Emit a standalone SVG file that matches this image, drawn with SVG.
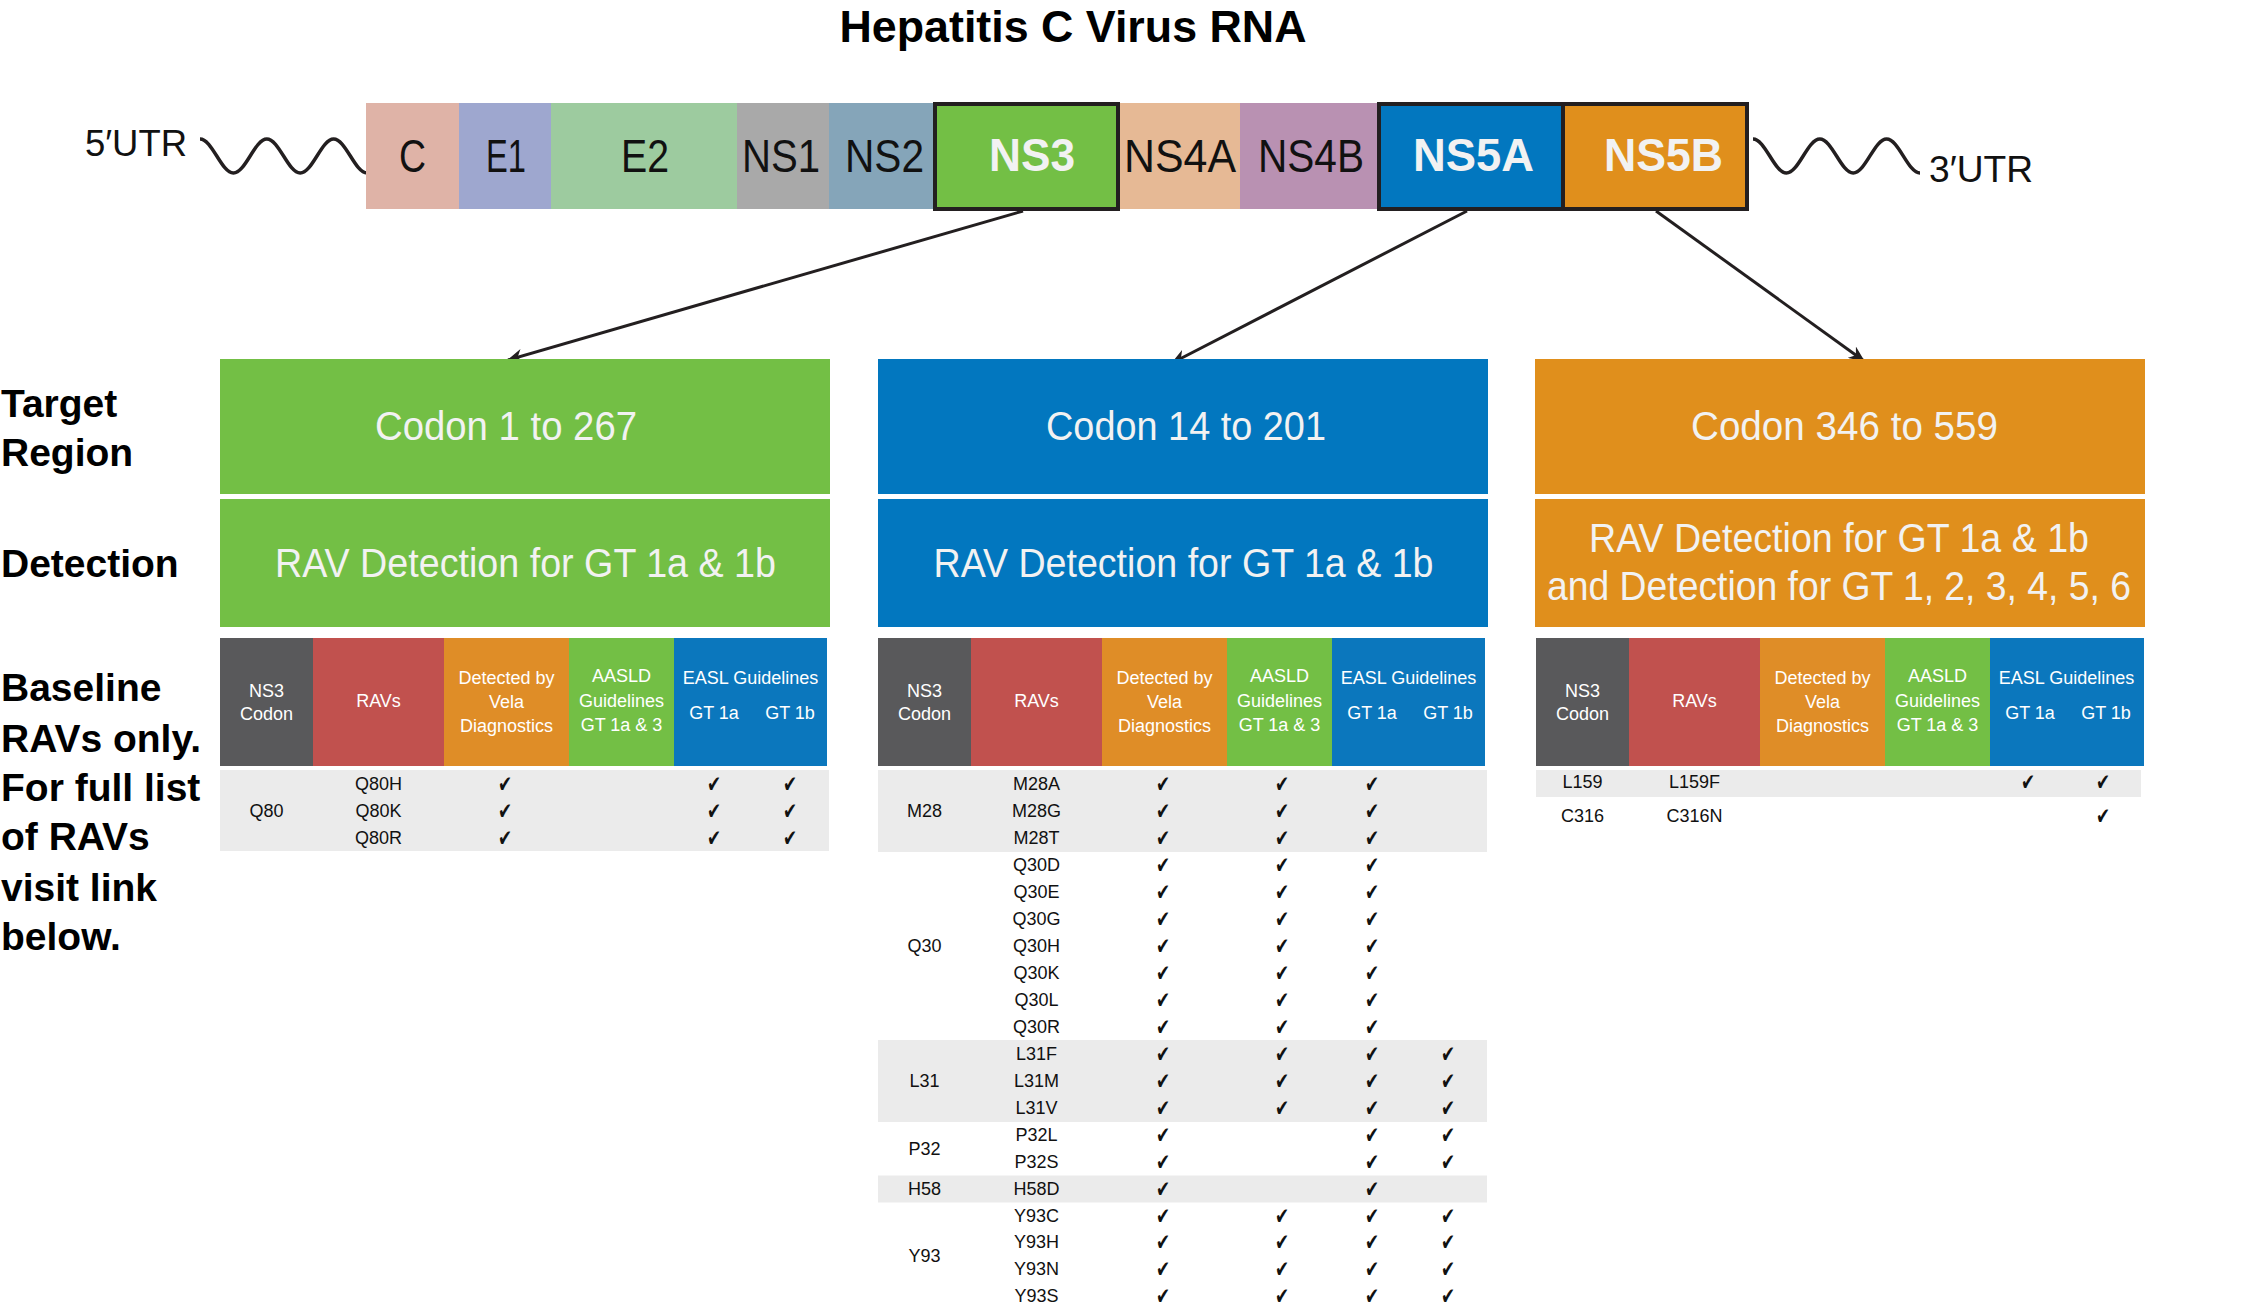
<svg xmlns="http://www.w3.org/2000/svg" width="2253" height="1309" viewBox="0 0 2253 1309">
<style>
text{font-family:'Liberation Sans',Arial,sans-serif}
.title{font-size:44px;font-weight:bold;fill:#000;text-anchor:middle}
.utr{font-size:37px;fill:#111}
.gene{font-size:47px;fill:#111;text-anchor:middle}
.geneB{font-size:47px;font-weight:bold;fill:#f2f2f2;text-anchor:middle}
.side{font-size:39px;font-weight:bold;fill:#000}
.big{font-size:40px;fill:#f2f2f2;text-anchor:middle}
.hd{font-size:18px;fill:#fff;text-anchor:middle}
.cell{font-size:18px;fill:#111;text-anchor:middle}
.ck{font-family:'DejaVu Sans',sans-serif;font-size:23px;fill:#111;text-anchor:middle}
.wave{fill:none;stroke:#231f20;stroke-width:3.5}
.conn{fill:none;stroke:#231f20;stroke-width:3}
.bord{stroke:#231f20;stroke-width:4}
.band{fill:#ebebeb}
.c-grey{fill:#59595b}.c-red{fill:#c1514e}.c-org{fill:#df8d27}.c-grn{fill:#73bf45}.c-blu{fill:#0b77bd}
</style>
<defs>
<marker id="ah" viewBox="0 0 16 14" markerWidth="16" markerHeight="14" refX="15" refY="7" orient="auto" markerUnits="userSpaceOnUse">
<path d="M0,0 L16,7 L0,14 L5,7 Z" fill="#231f20"/>
</marker>
</defs>
<rect width="2253" height="1309" fill="#fff"/>

<g id="title"><text class="title" x="1073" y="42" textLength="467" lengthAdjust="spacingAndGlyphs">Hepatitis C Virus RNA</text></g>

<g id="utr5">
<text class="utr" x="85" y="156" textLength="102" lengthAdjust="spacingAndGlyphs">5′UTR</text>
<path class="wave" d="M200,139 C212.2,139 221.3,173 233.4,173 C245.6,173 254.7,139 266.8,139 C279,139 288.1,173 300.2,173 C312.4,173 321.5,139 333.6,139 C345.8,139 354.9,173 367,173"/>
</g>
<g id="utr3">
<path class="wave" d="M1753,139 C1765.2,139 1774.3,173 1786.4,173 C1798.6,173 1807.7,139 1819.8,139 C1832,139 1841.1,173 1853.2,173 C1865.4,173 1874.5,139 1886.6,139 C1898.8,139 1907.9,173 1920,173"/>
<text class="utr" x="1929" y="182" textLength="104" lengthAdjust="spacingAndGlyphs">3′UTR</text>
</g>

<g id="gene-C"><rect x="366" y="103" width="93" height="106" fill="#dfb3a7"/><text class="gene" x="412.5" y="172" textLength="27" lengthAdjust="spacingAndGlyphs">C</text></g>
<g id="gene-E1"><rect x="459" y="103" width="92" height="106" fill="#9ea7cf"/><text class="gene" x="506" y="172" textLength="40" lengthAdjust="spacingAndGlyphs">E1</text></g>
<g id="gene-E2"><rect x="551" y="103" width="186" height="106" fill="#9dcb9f"/><text class="gene" x="645" y="172" textLength="48" lengthAdjust="spacingAndGlyphs">E2</text></g>
<g id="gene-NS1"><rect x="737" y="103" width="92" height="106" fill="#a9a9a9"/><text class="gene" x="781" y="172" textLength="78" lengthAdjust="spacingAndGlyphs">NS1</text></g>
<g id="gene-NS2"><rect x="829" y="103" width="104" height="106" fill="#85a5b9"/><text class="gene" x="884.5" y="172" textLength="79" lengthAdjust="spacingAndGlyphs">NS2</text></g>
<g id="gene-NS4A"><rect x="1120" y="103" width="120" height="106" fill="#e6b995"/><text class="gene" x="1180" y="172" textLength="112" lengthAdjust="spacingAndGlyphs">NS4A</text></g>
<g id="gene-NS4B"><rect x="1240" y="103" width="137" height="106" fill="#b991b2"/><text class="gene" x="1311" y="172" textLength="106" lengthAdjust="spacingAndGlyphs">NS4B</text></g>
<g id="gene-NS3"><rect class="bord" x="935" y="104" width="183" height="105" fill="#73bf45"/><text class="geneB" x="1032" y="171" textLength="86" lengthAdjust="spacingAndGlyphs">NS3</text></g>
<g id="gene-NS5A"><rect class="bord" x="1379" y="104" width="184" height="105" fill="#0277bf"/><text class="geneB" x="1473.5" y="171" textLength="121" lengthAdjust="spacingAndGlyphs">NS5A</text></g>
<g id="gene-NS5B"><rect class="bord" x="1563" y="104" width="184" height="105" fill="#e08f1c"/><text class="geneB" x="1663.5" y="171" textLength="119" lengthAdjust="spacingAndGlyphs">NS5B</text></g>

<g id="connectors">
<line class="conn" x1="1023" y1="211" x2="508" y2="360" marker-end="url(#ah)"/>
<line class="conn" x1="1467" y1="211" x2="1172" y2="363" marker-end="url(#ah)"/>
<line class="conn" x1="1656" y1="211" x2="1864" y2="361" marker-end="url(#ah)"/>
</g>

<g id="row-labels">
<text class="side" x="1" y="417">Target</text>
<text class="side" x="1" y="466">Region</text>
<text class="side" x="1" y="577">Detection</text>
<text class="side" x="1" y="701">Baseline</text>
<text class="side" x="1" y="752">RAVs only.</text>
<text class="side" x="1" y="801">For full list</text>
<text class="side" x="1" y="850">of RAVs</text>
<text class="side" x="1" y="901">visit link</text>
<text class="side" x="1" y="950">below.</text>
</g>

<!-- NS3 panel -->
<g id="ns3-target"><rect x="220" y="359" width="610" height="135" fill="#73bf45"/><text class="big" x="506" y="439.5" textLength="262" lengthAdjust="spacingAndGlyphs">Codon 1 to 267</text></g>
<g id="ns3-detection"><rect x="220" y="499" width="610" height="128" fill="#73bf45"/><text class="big" x="525.5" y="577" textLength="501" lengthAdjust="spacingAndGlyphs">RAV Detection for GT 1a &amp; 1b</text></g>
<g id="ns3-table">
<rect class="c-grey" x="220" y="638" width="93" height="128"/>
<rect class="c-red" x="313" y="638" width="131" height="128"/>
<rect class="c-org" x="444" y="638" width="125" height="128"/>
<rect class="c-grn" x="569" y="638" width="105" height="128"/>
<rect class="c-blu" x="674" y="638" width="153" height="128"/>
<text class="hd" x="266.5" y="696.5">NS3</text><text class="hd" x="266.5" y="720">Codon</text>
<text class="hd" x="378.5" y="707">RAVs</text>
<text class="hd" x="506.5" y="684">Detected by</text><text class="hd" x="506.5" y="708">Vela</text><text class="hd" x="506.5" y="731.5">Diagnostics</text>
<text class="hd" x="621.5" y="682">AASLD</text><text class="hd" x="621.5" y="706.5">Guidelines</text><text class="hd" x="621.5" y="731">GT 1a &amp; 3</text>
<text class="hd" x="750.5" y="684">EASL Guidelines</text><text class="hd" x="714" y="718.5">GT 1a</text><text class="hd" x="790" y="718.5">GT 1b</text>
<rect class="band" x="220" y="770" width="609" height="81"/>
<text class="cell" x="266.5" y="817">Q80</text>
<text class="cell" x="378.5" y="790">Q80H</text><text class="cell" x="378.5" y="817">Q80K</text><text class="cell" x="378.5" y="843.5">Q80R</text>
<text class="ck" x="505" y="792" textLength="14" lengthAdjust="spacingAndGlyphs">✔</text><text class="ck" x="714" y="792" textLength="14" lengthAdjust="spacingAndGlyphs">✔</text><text class="ck" x="790" y="792" textLength="14" lengthAdjust="spacingAndGlyphs">✔</text>
<text class="ck" x="505" y="819" textLength="14" lengthAdjust="spacingAndGlyphs">✔</text><text class="ck" x="714" y="819" textLength="14" lengthAdjust="spacingAndGlyphs">✔</text><text class="ck" x="790" y="819" textLength="14" lengthAdjust="spacingAndGlyphs">✔</text>
<text class="ck" x="505" y="845.5" textLength="14" lengthAdjust="spacingAndGlyphs">✔</text><text class="ck" x="714" y="845.5" textLength="14" lengthAdjust="spacingAndGlyphs">✔</text><text class="ck" x="790" y="845.5" textLength="14" lengthAdjust="spacingAndGlyphs">✔</text>
</g>

<!-- NS5A panel -->
<g id="ns5a-target"><rect x="878" y="359" width="610" height="135" fill="#0277bf"/><text class="big" x="1186" y="440" textLength="280" lengthAdjust="spacingAndGlyphs">Codon 14 to 201</text></g>
<g id="ns5a-detection"><rect x="878" y="499" width="610" height="128" fill="#0277bf"/><text class="big" x="1183.5" y="577" textLength="500" lengthAdjust="spacingAndGlyphs">RAV Detection for GT 1a &amp; 1b</text></g>
<g id="ns5a-table">
<rect class="c-grey" x="878" y="638" width="93" height="128"/>
<rect class="c-red" x="971" y="638" width="131" height="128"/>
<rect class="c-org" x="1102" y="638" width="125" height="128"/>
<rect class="c-grn" x="1227" y="638" width="105" height="128"/>
<rect class="c-blu" x="1332" y="638" width="153" height="128"/>
<text class="hd" x="924.5" y="696.5">NS3</text><text class="hd" x="924.5" y="720">Codon</text>
<text class="hd" x="1036.5" y="707">RAVs</text>
<text class="hd" x="1164.5" y="684">Detected by</text><text class="hd" x="1164.5" y="708">Vela</text><text class="hd" x="1164.5" y="731.5">Diagnostics</text>
<text class="hd" x="1279.5" y="682">AASLD</text><text class="hd" x="1279.5" y="706.5">Guidelines</text><text class="hd" x="1279.5" y="731">GT 1a &amp; 3</text>
<text class="hd" x="1408.5" y="684">EASL Guidelines</text><text class="hd" x="1372" y="718.5">GT 1a</text><text class="hd" x="1448" y="718.5">GT 1b</text>
<rect class="band" x="878" y="770" width="609" height="82"/>
<rect class="band" x="878" y="1040" width="609" height="82"/>
<rect class="band" x="878" y="1175.5" width="609" height="27"/>
<text class="cell" x="924.5" y="817">M28</text>
<text class="cell" x="924.5" y="952">Q30</text>
<text class="cell" x="924.5" y="1087">L31</text>
<text class="cell" x="924.5" y="1154.5">P32</text>
<text class="cell" x="924.5" y="1195">H58</text>
<text class="cell" x="924.5" y="1261.5">Y93</text>
<text class="cell" x="1036.5" y="790">M28A</text>
<text class="cell" x="1036.5" y="817">M28G</text>
<text class="cell" x="1036.5" y="844">M28T</text>
<text class="cell" x="1036.5" y="871">Q30D</text>
<text class="cell" x="1036.5" y="898">Q30E</text>
<text class="cell" x="1036.5" y="925">Q30G</text>
<text class="cell" x="1036.5" y="952">Q30H</text>
<text class="cell" x="1036.5" y="979">Q30K</text>
<text class="cell" x="1036.5" y="1006">Q30L</text>
<text class="cell" x="1036.5" y="1033">Q30R</text>
<text class="cell" x="1036.5" y="1060">L31F</text>
<text class="cell" x="1036.5" y="1087">L31M</text>
<text class="cell" x="1036.5" y="1114">L31V</text>
<text class="cell" x="1036.5" y="1141">P32L</text>
<text class="cell" x="1036.5" y="1168">P32S</text>
<text class="cell" x="1036.5" y="1195">H58D</text>
<text class="cell" x="1036.5" y="1222">Y93C</text>
<text class="cell" x="1036.5" y="1248">Y93H</text>
<text class="cell" x="1036.5" y="1275">Y93N</text>
<text class="cell" x="1036.5" y="1302">Y93S</text>
<text class="ck" x="1163" y="792" textLength="14" lengthAdjust="spacingAndGlyphs">✔</text><text class="ck" x="1282" y="792" textLength="14" lengthAdjust="spacingAndGlyphs">✔</text><text class="ck" x="1372" y="792" textLength="14" lengthAdjust="spacingAndGlyphs">✔</text>
<text class="ck" x="1163" y="819" textLength="14" lengthAdjust="spacingAndGlyphs">✔</text><text class="ck" x="1282" y="819" textLength="14" lengthAdjust="spacingAndGlyphs">✔</text><text class="ck" x="1372" y="819" textLength="14" lengthAdjust="spacingAndGlyphs">✔</text>
<text class="ck" x="1163" y="846" textLength="14" lengthAdjust="spacingAndGlyphs">✔</text><text class="ck" x="1282" y="846" textLength="14" lengthAdjust="spacingAndGlyphs">✔</text><text class="ck" x="1372" y="846" textLength="14" lengthAdjust="spacingAndGlyphs">✔</text>
<text class="ck" x="1163" y="873" textLength="14" lengthAdjust="spacingAndGlyphs">✔</text><text class="ck" x="1282" y="873" textLength="14" lengthAdjust="spacingAndGlyphs">✔</text><text class="ck" x="1372" y="873" textLength="14" lengthAdjust="spacingAndGlyphs">✔</text>
<text class="ck" x="1163" y="900" textLength="14" lengthAdjust="spacingAndGlyphs">✔</text><text class="ck" x="1282" y="900" textLength="14" lengthAdjust="spacingAndGlyphs">✔</text><text class="ck" x="1372" y="900" textLength="14" lengthAdjust="spacingAndGlyphs">✔</text>
<text class="ck" x="1163" y="927" textLength="14" lengthAdjust="spacingAndGlyphs">✔</text><text class="ck" x="1282" y="927" textLength="14" lengthAdjust="spacingAndGlyphs">✔</text><text class="ck" x="1372" y="927" textLength="14" lengthAdjust="spacingAndGlyphs">✔</text>
<text class="ck" x="1163" y="954" textLength="14" lengthAdjust="spacingAndGlyphs">✔</text><text class="ck" x="1282" y="954" textLength="14" lengthAdjust="spacingAndGlyphs">✔</text><text class="ck" x="1372" y="954" textLength="14" lengthAdjust="spacingAndGlyphs">✔</text>
<text class="ck" x="1163" y="981" textLength="14" lengthAdjust="spacingAndGlyphs">✔</text><text class="ck" x="1282" y="981" textLength="14" lengthAdjust="spacingAndGlyphs">✔</text><text class="ck" x="1372" y="981" textLength="14" lengthAdjust="spacingAndGlyphs">✔</text>
<text class="ck" x="1163" y="1008" textLength="14" lengthAdjust="spacingAndGlyphs">✔</text><text class="ck" x="1282" y="1008" textLength="14" lengthAdjust="spacingAndGlyphs">✔</text><text class="ck" x="1372" y="1008" textLength="14" lengthAdjust="spacingAndGlyphs">✔</text>
<text class="ck" x="1163" y="1035" textLength="14" lengthAdjust="spacingAndGlyphs">✔</text><text class="ck" x="1282" y="1035" textLength="14" lengthAdjust="spacingAndGlyphs">✔</text><text class="ck" x="1372" y="1035" textLength="14" lengthAdjust="spacingAndGlyphs">✔</text>
<text class="ck" x="1163" y="1062" textLength="14" lengthAdjust="spacingAndGlyphs">✔</text><text class="ck" x="1282" y="1062" textLength="14" lengthAdjust="spacingAndGlyphs">✔</text><text class="ck" x="1372" y="1062" textLength="14" lengthAdjust="spacingAndGlyphs">✔</text><text class="ck" x="1448" y="1062" textLength="14" lengthAdjust="spacingAndGlyphs">✔</text>
<text class="ck" x="1163" y="1089" textLength="14" lengthAdjust="spacingAndGlyphs">✔</text><text class="ck" x="1282" y="1089" textLength="14" lengthAdjust="spacingAndGlyphs">✔</text><text class="ck" x="1372" y="1089" textLength="14" lengthAdjust="spacingAndGlyphs">✔</text><text class="ck" x="1448" y="1089" textLength="14" lengthAdjust="spacingAndGlyphs">✔</text>
<text class="ck" x="1163" y="1116" textLength="14" lengthAdjust="spacingAndGlyphs">✔</text><text class="ck" x="1282" y="1116" textLength="14" lengthAdjust="spacingAndGlyphs">✔</text><text class="ck" x="1372" y="1116" textLength="14" lengthAdjust="spacingAndGlyphs">✔</text><text class="ck" x="1448" y="1116" textLength="14" lengthAdjust="spacingAndGlyphs">✔</text>
<text class="ck" x="1163" y="1143" textLength="14" lengthAdjust="spacingAndGlyphs">✔</text><text class="ck" x="1372" y="1143" textLength="14" lengthAdjust="spacingAndGlyphs">✔</text><text class="ck" x="1448" y="1143" textLength="14" lengthAdjust="spacingAndGlyphs">✔</text>
<text class="ck" x="1163" y="1170" textLength="14" lengthAdjust="spacingAndGlyphs">✔</text><text class="ck" x="1372" y="1170" textLength="14" lengthAdjust="spacingAndGlyphs">✔</text><text class="ck" x="1448" y="1170" textLength="14" lengthAdjust="spacingAndGlyphs">✔</text>
<text class="ck" x="1163" y="1197" textLength="14" lengthAdjust="spacingAndGlyphs">✔</text><text class="ck" x="1372" y="1197" textLength="14" lengthAdjust="spacingAndGlyphs">✔</text>
<text class="ck" x="1163" y="1224" textLength="14" lengthAdjust="spacingAndGlyphs">✔</text><text class="ck" x="1282" y="1224" textLength="14" lengthAdjust="spacingAndGlyphs">✔</text><text class="ck" x="1372" y="1224" textLength="14" lengthAdjust="spacingAndGlyphs">✔</text><text class="ck" x="1448" y="1224" textLength="14" lengthAdjust="spacingAndGlyphs">✔</text>
<text class="ck" x="1163" y="1250" textLength="14" lengthAdjust="spacingAndGlyphs">✔</text><text class="ck" x="1282" y="1250" textLength="14" lengthAdjust="spacingAndGlyphs">✔</text><text class="ck" x="1372" y="1250" textLength="14" lengthAdjust="spacingAndGlyphs">✔</text><text class="ck" x="1448" y="1250" textLength="14" lengthAdjust="spacingAndGlyphs">✔</text>
<text class="ck" x="1163" y="1277" textLength="14" lengthAdjust="spacingAndGlyphs">✔</text><text class="ck" x="1282" y="1277" textLength="14" lengthAdjust="spacingAndGlyphs">✔</text><text class="ck" x="1372" y="1277" textLength="14" lengthAdjust="spacingAndGlyphs">✔</text><text class="ck" x="1448" y="1277" textLength="14" lengthAdjust="spacingAndGlyphs">✔</text>
<text class="ck" x="1163" y="1304" textLength="14" lengthAdjust="spacingAndGlyphs">✔</text><text class="ck" x="1282" y="1304" textLength="14" lengthAdjust="spacingAndGlyphs">✔</text><text class="ck" x="1372" y="1304" textLength="14" lengthAdjust="spacingAndGlyphs">✔</text><text class="ck" x="1448" y="1304" textLength="14" lengthAdjust="spacingAndGlyphs">✔</text>
</g>

<!-- NS5B panel -->
<g id="ns5b-target"><rect x="1535" y="359" width="610" height="135" fill="#e08f1c"/><text class="big" x="1844.5" y="440" textLength="307" lengthAdjust="spacingAndGlyphs">Codon 346 to 559</text></g>
<g id="ns5b-detection"><rect x="1535" y="499" width="610" height="128" fill="#e08f1c"/>
<text class="big" x="1839" y="552" textLength="500" lengthAdjust="spacingAndGlyphs">RAV Detection for GT 1a &amp; 1b</text>
<text class="big" x="1839" y="600" textLength="584" lengthAdjust="spacingAndGlyphs">and Detection for GT 1, 2, 3, 4, 5, 6</text></g>
<g id="ns5b-table">
<rect class="c-grey" x="1536" y="638" width="93" height="128"/>
<rect class="c-red" x="1629" y="638" width="131" height="128"/>
<rect class="c-org" x="1760" y="638" width="125" height="128"/>
<rect class="c-grn" x="1885" y="638" width="105" height="128"/>
<rect class="c-blu" x="1990" y="638" width="154" height="128"/>
<text class="hd" x="1582.5" y="696.5">NS3</text><text class="hd" x="1582.5" y="720">Codon</text>
<text class="hd" x="1694.5" y="707">RAVs</text>
<text class="hd" x="1822.5" y="684">Detected by</text><text class="hd" x="1822.5" y="708">Vela</text><text class="hd" x="1822.5" y="731.5">Diagnostics</text>
<text class="hd" x="1937.5" y="682">AASLD</text><text class="hd" x="1937.5" y="706.5">Guidelines</text><text class="hd" x="1937.5" y="731">GT 1a &amp; 3</text>
<text class="hd" x="2066.5" y="684">EASL Guidelines</text><text class="hd" x="2030" y="718.5">GT 1a</text><text class="hd" x="2106" y="718.5">GT 1b</text>
<rect class="band" x="1536" y="770" width="605" height="27"/>
<text class="cell" x="1582.5" y="788">L159</text><text class="cell" x="1694.5" y="788">L159F</text>
<text class="ck" x="2028" y="790" textLength="14" lengthAdjust="spacingAndGlyphs">✔</text><text class="ck" x="2103" y="790" textLength="14" lengthAdjust="spacingAndGlyphs">✔</text>
<text class="cell" x="1582.5" y="822">C316</text><text class="cell" x="1694.5" y="822">C316N</text>
<text class="ck" x="2103" y="824" textLength="14" lengthAdjust="spacingAndGlyphs">✔</text>
</g>
</svg>
